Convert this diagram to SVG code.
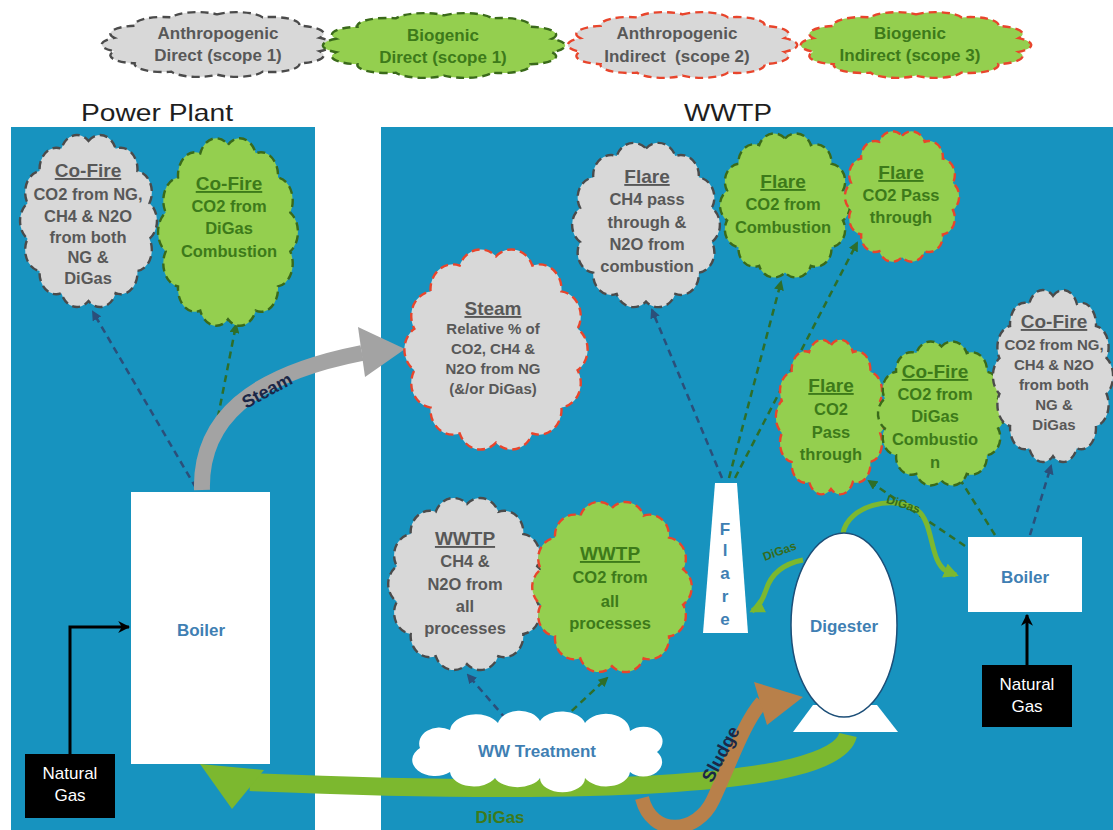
<svg xmlns="http://www.w3.org/2000/svg" xmlns:xlink="http://www.w3.org/1999/xlink" width="1113" height="830" viewBox="0 0 1113 830">
  <defs>
    <style>
      text { font-family: "Liberation Sans", Arial, sans-serif; font-weight: bold; text-anchor: middle; }
      .panel { fill: #1793bf; }
      .heading { font-weight: normal; font-size: 24px; fill: #1e1e1e; }
      .c-gray { fill: #d8d8d8; }
      .c-green { fill: #94cf4f; }
      .s-dark { stroke: #4b4b4b; stroke-width: 2.4; stroke-dasharray: 8 5; }
      .s-dgreen { stroke: #3a6a1a; stroke-width: 2.4; stroke-dasharray: 8 5; }
      .s-red { stroke: #e8452c; stroke-width: 2.4; stroke-dasharray: 8 5; }
      .tg { fill: #585858; }
      .tgr { fill: #3d7a1a; }
      .tb { fill: #3f7fb3; }
      .ttl { font-size: 19px; text-decoration: underline; }
      .body { font-size: 16.5px; }
      .small { font-size: 15px; }
      .lg { font-size: 17px; }
      .box { fill: #ffffff; }
      .ng { fill: #000000; }
      .ngt { fill: #ffffff; font-weight: normal; font-size: 17px; }
      .dash-b { fill: none; stroke: #2b4f7a; stroke-width: 2.5; stroke-dasharray: 7 5; marker-end: url(#ah-blue); }
      .dash-g { fill: none; stroke: #2e6e2a; stroke-width: 2.5; stroke-dasharray: 7 5; marker-end: url(#ah-green); }
      .feed { fill: none; stroke: #000000; stroke-width: 3; marker-end: url(#ah-black); }
      .digas { fill: none; stroke: #7cb82f; stroke-width: 5; marker-end: url(#ah-digas); }
      .lbl { fill: #1b2747; font-size: 18px; }
      .lbl-g { fill: #356b1c; font-size: 12px; }
    </style>
    <!-- generic puffy cloud in a 100x100 box, scaled per node -->
    <path id="cloud" vector-effect="non-scaling-stroke"
      d="M50,5 A12,12 0 0 1 69.53,9.45 A12,12 0 0 1 85.18,21.94 A12,12 0 0 1 93.87,39.99 A12,12 0 0 1 93.87,60.01 A12,12 0 0 1 85.18,78.06 A12,12 0 0 1 69.53,90.55 A12,12 0 0 1 50,95 A12,12 0 0 1 30.47,90.55 A12,12 0 0 1 14.82,78.06 A12,12 0 0 1 6.13,60.01 A12,12 0 0 1 6.13,39.99 A12,12 0 0 1 14.82,21.94 A12,12 0 0 1 30.47,9.45 A12,12 0 0 1 50,5 Z"/>
    <marker id="ah-blue" viewBox="0 0 10 10" refX="8" refY="5" markerWidth="4" markerHeight="4" orient="auto">
      <path d="M0,0 L10,5 L0,10 Z" fill="#2b4f7a"/>
    </marker>
    <marker id="ah-green" viewBox="0 0 10 10" refX="8" refY="5" markerWidth="4" markerHeight="4" orient="auto">
      <path d="M0,0 L10,5 L0,10 Z" fill="#2e6e2a"/>
    </marker>
    <marker id="ah-black" viewBox="0 0 10 10" refX="9" refY="5" markerWidth="4" markerHeight="4" orient="auto">
      <path d="M0,0 L10,5 L0,10 L3,5 Z" fill="#000000"/>
    </marker>
    <marker id="ah-digas" viewBox="0 0 10 10" refX="8" refY="5" markerWidth="3" markerHeight="3" orient="auto">
      <path d="M0,0 L10,5 L0,10 Z" fill="#7cb82f"/>
    </marker>
  </defs>

  <rect width="1113" height="830" fill="#ffffff"/>

  <!-- site panels -->
  <g id="power-plant-panel">
    <rect class="panel" x="11" y="127" width="304" height="703"/>
    <text class="heading" x="157" y="121" textLength="152" lengthAdjust="spacingAndGlyphs">Power Plant</text>
  </g>
  <g id="wwtp-panel">
    <rect class="panel" x="381" y="127" width="732" height="703"/>
    <text class="heading" x="728" y="121" textLength="88" lengthAdjust="spacingAndGlyphs">WWTP</text>
  </g>

  <!-- legend -->
  <g id="legend-anthropogenic-direct">
    <use xlink:href="#cloud" class="c-gray s-dark" transform="translate(100,11) scale(2.34,0.67)"/>
    <text class="lg tg"><tspan x="218" y="39">Anthropogenic</tspan><tspan x="218" y="61">Direct (scope 1)</tspan></text>
  </g>
  <g id="legend-biogenic-direct">
    <use xlink:href="#cloud" class="c-green s-dgreen" transform="translate(321,12) scale(2.46,0.67)"/>
    <text class="lg tgr"><tspan x="443" y="41">Biogenic</tspan><tspan x="443" y="63">Direct (scope 1)</tspan></text>
  </g>
  <g id="legend-anthropogenic-indirect">
    <use xlink:href="#cloud" class="c-gray s-red" transform="translate(566,11) scale(2.33,0.68)"/>
    <text class="lg tg"><tspan x="677" y="39">Anthropogenic</tspan><tspan x="677" y="62" style="white-space:pre">Indirect  (scope 2)</tspan></text>
  </g>
  <g id="legend-biogenic-indirect">
    <use xlink:href="#cloud" class="c-green s-red" transform="translate(799,11) scale(2.34,0.68)"/>
    <text class="lg tgr"><tspan x="910" y="39">Biogenic</tspan><tspan x="910" y="61">Indirect (scope 3)</tspan></text>
  </g>

  <!-- connectors -->
  <g id="connectors">
    <!-- emission paths (dashed) -->
    <path class="dash-b" d="M196,488 L93,312"/>
    <path class="dash-g" d="M204,488 L236,325"/>
    <path class="dash-b" d="M722,478 L652,310"/>
    <path class="dash-g" d="M729,478 L781,282"/>
    <path class="dash-g" d="M735,478 L857,243"/>
    <path class="dash-g" d="M965,546 L869,481"/>
    <path class="dash-g" d="M995,535 L956,473"/>
    <path class="dash-b" d="M1030,535 L1051,466"/>
    <path class="dash-b" d="M506,719 L468,675"/>
    <path class="dash-g" d="M563,719 L607,678"/>
    <!-- natural gas feeds -->
    <path class="feed" d="M70,754 L70,627 L129,627"/>
    <path class="feed" d="M1027,665 L1027,615"/>
    <!-- digester gas to flare and boiler -->
    <path class="digas" d="M843,533 C848,506 893,494 917,510 C934,522 929,560 946,571 L956,575"/>
    <text class="lbl-g" transform="translate(902,508) rotate(18)">DiGas</text>
    <path class="digas" d="M803,560 C782,564 771,574 766,590 C762,602 758,608 752,611"/>
    <text class="lbl-g" transform="translate(781,555) rotate(-20)">DiGas</text>
    <!-- digester gas back to the power plant -->
    <path d="M848,735 C835,790 560,795 250,782" fill="none" stroke="#7cb82f" stroke-width="18"/>
    <polygon points="200,764 264,770 232,809" fill="#7cb82f"/>
    <text class="tgr" x="500" y="823" font-size="17">DiGas</text>
    <!-- steam to the WWTP -->
    <path d="M202,490 C200,420 250,375 362,353" fill="none" stroke="#a3a3a3" stroke-width="16"/>
    <polygon points="358,327 405,349 365,377" fill="#a3a3a3"/>
    <text class="lbl" transform="translate(270,396) rotate(-29)">Steam</text>
    <!-- sludge to the digester -->
    <path d="M642,798 C652,838 697,834 713,800 C730,764 744,722 762,702" fill="none" stroke="#b8804a" stroke-width="14"/>
    <polygon points="754,682 803,697 767,725" fill="#b8804a"/>
    <text class="lbl" transform="translate(726,757) rotate(-62)">Sludge</text>
  </g>

  <!-- power plant -->
  <g id="pp-cofire-anthropogenic">
    <use xlink:href="#cloud" class="c-gray s-dark" transform="translate(19,132) scale(1.39,1.78)"/>
    <text class="tg"><tspan class="ttl" x="88" y="177">Co-Fire</tspan><tspan class="body" x="88" y="200">CO2 from NG,</tspan><tspan class="body" x="88" y="222">CH4 &amp; N2O</tspan><tspan class="body" x="88" y="243">from both</tspan><tspan class="body" x="88" y="263">NG &amp;</tspan><tspan class="body" x="88" y="284">DiGas</tspan></text>
  </g>
  <g id="pp-cofire-biogenic">
    <use xlink:href="#cloud" class="c-green s-dgreen" transform="translate(157,135) scale(1.42,1.94)"/>
    <text class="tgr"><tspan class="ttl" x="229" y="190">Co-Fire</tspan><tspan class="body" x="229" y="212">CO2 from</tspan><tspan class="body" x="229" y="234">DiGas</tspan><tspan class="body" x="229" y="257">Combustion</tspan></text>
  </g>
  <g id="pp-boiler">
    <rect class="box" x="131" y="492" width="139" height="272"/>
    <text class="tb" x="201" y="636" font-size="17">Boiler</text>
  </g>
  <g id="pp-natural-gas">
    <rect class="ng" x="25" y="754" width="90" height="64"/>
    <text class="ngt"><tspan x="70" y="779">Natural</tspan><tspan x="70" y="801">Gas</tspan></text>
  </g>

  <!-- WWTP -->
  <g id="steam-indirect">
    <use xlink:href="#cloud" class="c-gray s-red" transform="translate(403,246) scale(1.86,2.07)"/>
    <text class="tg"><tspan class="ttl" x="493" y="315">Steam</tspan><tspan class="small" x="493" y="334">Relative % of</tspan><tspan class="small" x="493" y="354">CO2, CH4 &amp;</tspan><tspan class="small" x="493" y="374">N2O from NG</tspan><tspan class="small" x="493" y="394">(&amp;/or DiGas)</tspan></text>
  </g>
  <g id="flare-anthropogenic">
    <use xlink:href="#cloud" class="c-gray s-dark" transform="translate(571,140) scale(1.50,1.70)"/>
    <text class="tg"><tspan class="ttl" x="647" y="183">Flare</tspan><tspan class="body" x="647" y="205">CH4 pass</tspan><tspan class="body" x="647" y="228">through &amp;</tspan><tspan class="body" x="647" y="250">N2O from</tspan><tspan class="body" x="647" y="272">combustion</tspan></text>
  </g>
  <g id="flare-biogenic-combustion">
    <use xlink:href="#cloud" class="c-green s-dgreen" transform="translate(719,131) scale(1.32,1.49)"/>
    <text class="tgr"><tspan class="ttl" x="783" y="188">Flare</tspan><tspan class="body" x="783" y="210">CO2 from</tspan><tspan class="body" x="783" y="233">Combustion</tspan></text>
  </g>
  <g id="flare-biogenic-passthrough">
    <use xlink:href="#cloud" class="c-green s-red" transform="translate(844,129) scale(1.16,1.35)"/>
    <text class="tgr"><tspan class="ttl" x="901" y="179">Flare</tspan><tspan class="body" x="901" y="201">CO2 Pass</tspan><tspan class="body" x="901" y="223">through</tspan></text>
  </g>
  <g id="boiler-flare-passthrough">
    <use xlink:href="#cloud" class="c-green s-red" transform="translate(775,337) scale(1.12,1.60)"/>
    <text class="tgr"><tspan class="ttl" x="831" y="392">Flare</tspan><tspan class="body" x="831" y="415">CO2</tspan><tspan class="body" x="831" y="438">Pass</tspan><tspan class="body" x="831" y="460">through</tspan></text>
  </g>
  <g id="boiler-cofire-biogenic">
    <use xlink:href="#cloud" class="c-green s-dgreen" transform="translate(877,339) scale(1.29,1.49)"/>
    <text class="tgr"><tspan class="ttl" x="935" y="378">Co-Fire</tspan><tspan class="body" x="935" y="400">CO2 from</tspan><tspan class="body" x="935" y="422">DiGas</tspan><tspan class="body" x="935" y="445">Combustio</tspan><tspan class="body" x="935" y="468">n</tspan></text>
  </g>
  <g id="boiler-cofire-anthropogenic">
    <use xlink:href="#cloud" class="c-gray s-dark" transform="translate(992,287) scale(1.22,1.78)"/>
    <text class="tg"><tspan class="ttl" x="1054" y="328">Co-Fire</tspan><tspan class="small" x="1054" y="350">CO2 from NG,</tspan><tspan class="small" x="1054" y="370">CH4 &amp; N2O</tspan><tspan class="small" x="1054" y="390">from both</tspan><tspan class="small" x="1054" y="410">NG &amp;</tspan><tspan class="small" x="1054" y="430">DiGas</tspan></text>
  </g>
  <g id="wwtp-anthropogenic">
    <use xlink:href="#cloud" class="c-gray s-dark" transform="translate(387,495) scale(1.60,1.78)"/>
    <text class="tg"><tspan class="ttl" x="465" y="545">WWTP</tspan><tspan class="body" x="465" y="567">CH4 &amp;</tspan><tspan class="body" x="465" y="590">N2O from</tspan><tspan class="body" x="465" y="612">all</tspan><tspan class="body" x="465" y="634">processes</tspan></text>
  </g>
  <g id="wwtp-biogenic">
    <use xlink:href="#cloud" class="c-green s-red" transform="translate(531,499) scale(1.62,1.76)"/>
    <text class="tgr"><tspan class="ttl" x="610" y="560">WWTP</tspan><tspan class="body" x="610" y="583">CO2 from</tspan><tspan class="body" x="610" y="607">all</tspan><tspan class="body" x="610" y="629">processes</tspan></text>
  </g>
  <g id="ww-treatment">
    <path fill="#ffffff" d="M420,748 A20,16 0 0 1 450,730 A26,18 0 0 1 498,723 A22,16 0 0 1 540,721 A24,16 0 0 1 585,723 A24,18 0 0 1 630,731 A18,14 0 0 1 657,752 A18,14 0 0 1 630,772 A24,16 0 0 1 585,778 A22,14 0 0 1 540,778 A24,14 0 0 1 495,778 A24,16 0 0 1 450,772 A20,14 0 0 1 420,748 Z"/>
    <text class="tb" x="537" y="757" font-size="17">WW Treatment</text>
  </g>
  <g id="flare-stack">
    <polygon class="box" points="715,483 737,483 748,633 703,633"/>
    <text class="tb" font-size="17"><tspan x="725" y="535">F</tspan><tspan x="725" y="556">l</tspan><tspan x="725" y="579">a</tspan><tspan x="725" y="602">r</tspan><tspan x="725" y="625">e</tspan></text>
  </g>
  <g id="digester">
    <polygon class="box" points="813,705 877,705 898,732 793,732"/>
    <ellipse cx="844" cy="625" rx="53" ry="92" fill="#ffffff" stroke="#1d4f78" stroke-width="1.5"/>
    <text class="tb" x="844" y="632" font-size="17">Digester</text>
  </g>
  <g id="wwtp-boiler">
    <rect class="box" x="968" y="537" width="114" height="75"/>
    <text class="tb" x="1025" y="583" font-size="17">Boiler</text>
  </g>
  <g id="wwtp-natural-gas">
    <rect class="ng" x="982" y="665" width="90" height="62"/>
    <text class="ngt"><tspan x="1027" y="690">Natural</tspan><tspan x="1027" y="712">Gas</tspan></text>
  </g>
</svg>
